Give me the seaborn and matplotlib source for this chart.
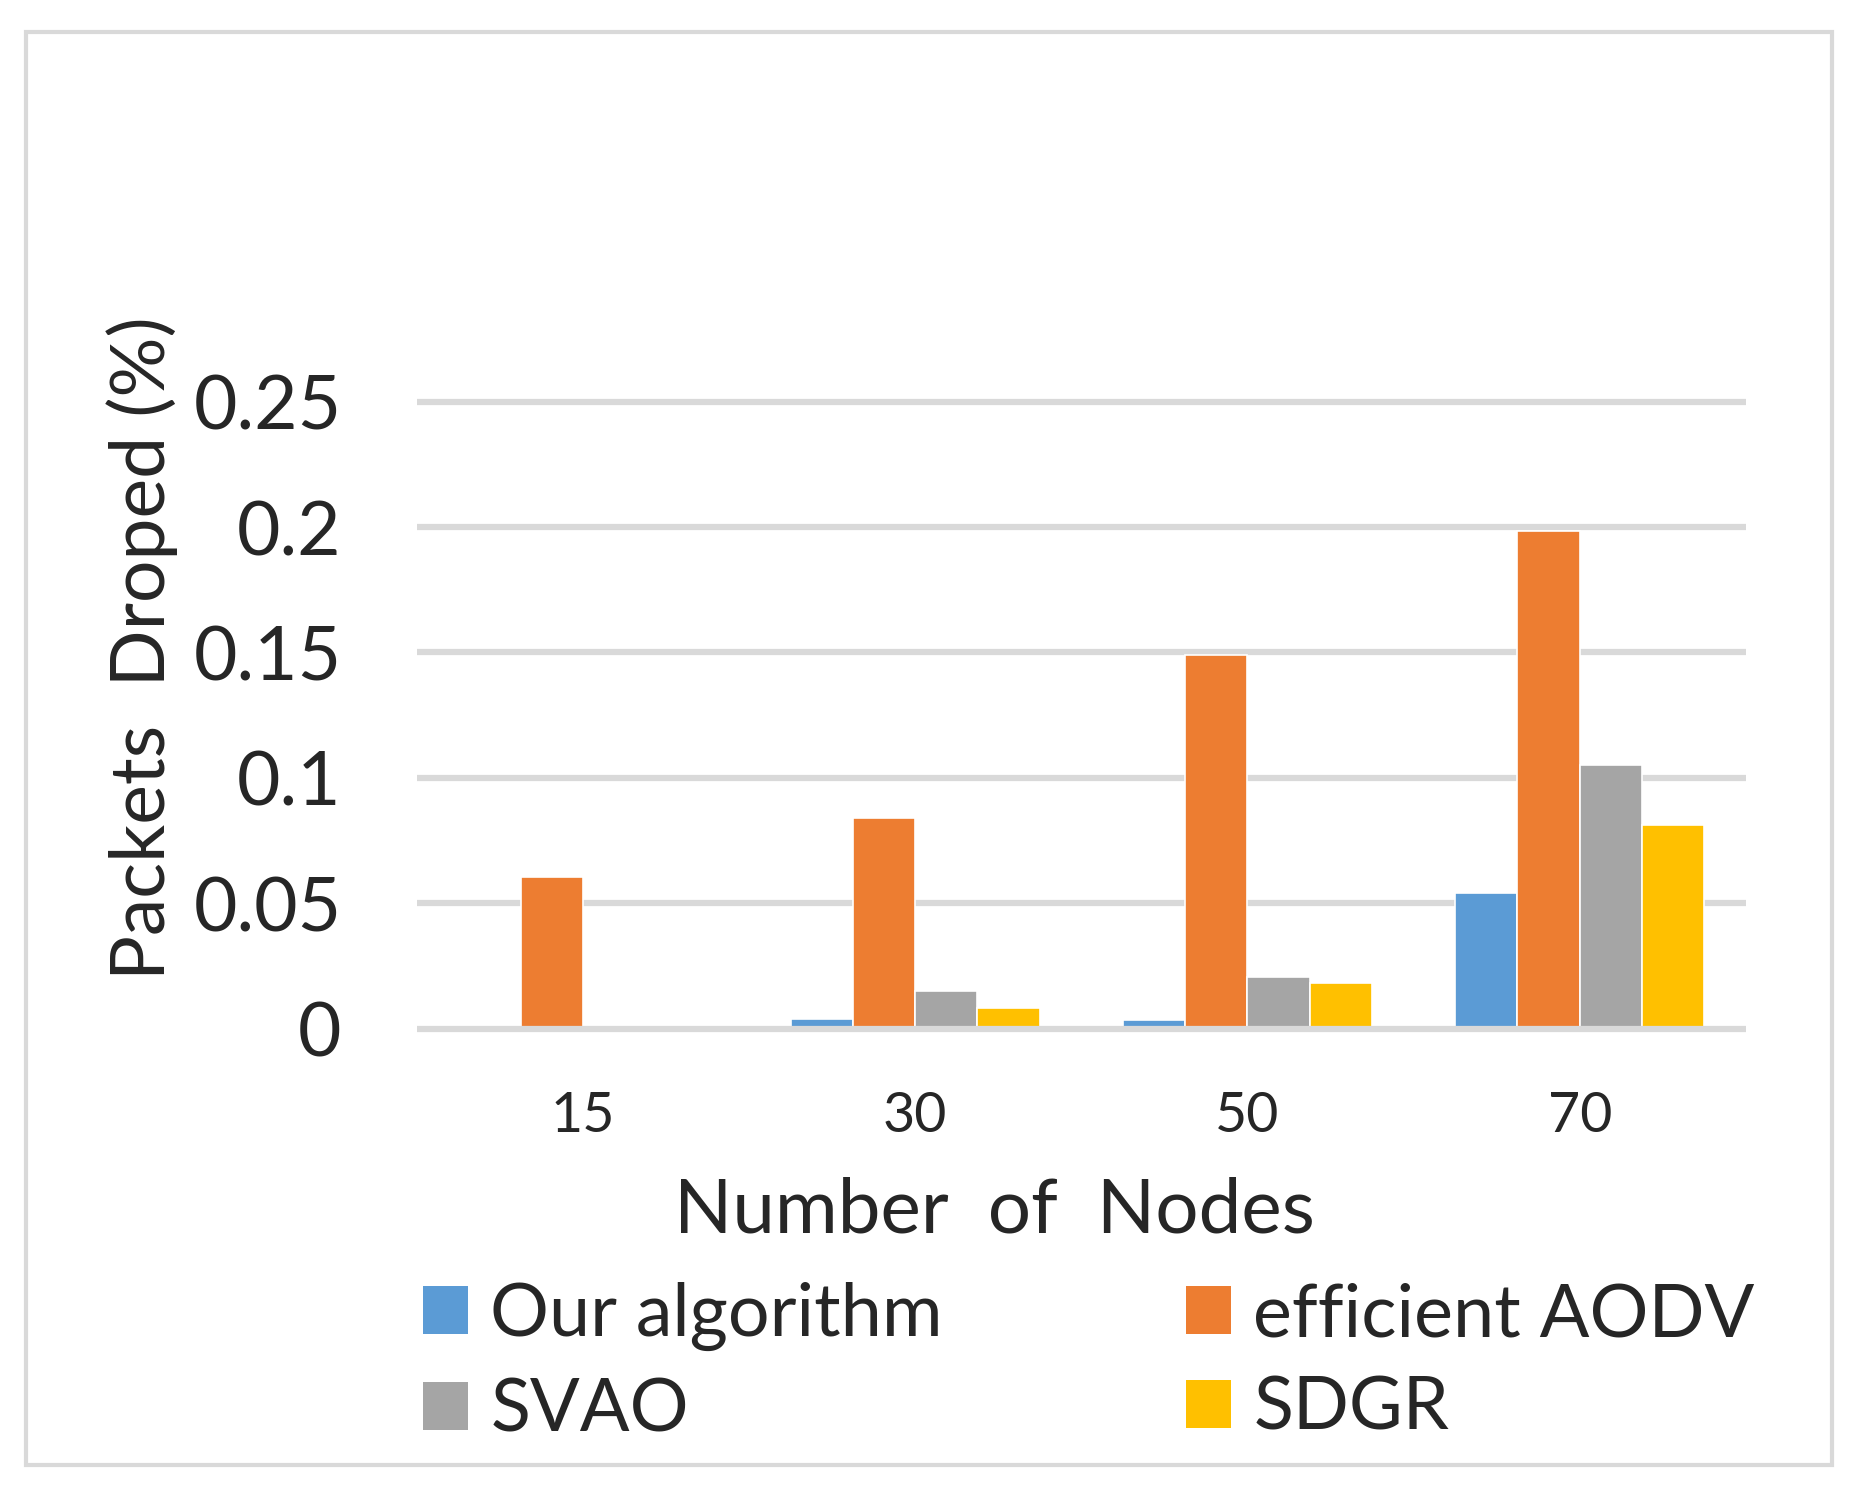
import numpy as np
import pandas as pd
import matplotlib.pyplot as plt
import seaborn as sns
from matplotlib.patches import Rectangle, Patch

# data
nodes = ['15', '30', '50', '70']
our_algorithm = [0.0, 0.0037, 0.0034, 0.054]
efficient_aodv = [0.0605, 0.0838, 0.1488, 0.1986]
svao = [0.0, 0.0150, 0.0206, 0.1053]
sdgr = [0.0, 0.0082, 0.0181, 0.0811]
series = ['Our algorithm', 'efficient AODV', 'SVAO', 'SDGR']
colors = ['#5B9BD5', '#ED7D31', '#A5A5A5', '#FFC000']

# %%
df = pd.DataFrame({
    'nodes': nodes * 4,
    'value': our_algorithm + efficient_aodv + svao + sdgr,
    'series': [s for s in series for _ in nodes],
})

sns.set_style('white')
plt.rcParams['font.family'] = ['Lato', 'DejaVu Sans']

W, H = 1568.0, 1254.0  # frame the positions were measured in
fig = plt.figure(figsize=(18.56, 14.86), dpi=100)

y0, per = 868.0, 105.8  # zero line and px per 0.05
ylo, yhi = -0.005, 0.26
bot = 1 - (y0 - ylo / 0.05 * per) / H
top = 1 - (y0 - yhi / 0.05 * per) / H
left, right = 352 / W, 1475 / W
ax = fig.add_axes([left, bot, right - left, top - bot])

sns.barplot(data=df, x='nodes', y='value', hue='series', palette=colors,
            width=0.75, gap=0, edgecolor='white', linewidth=1.2,
            saturation=1, ax=ax, legend=False, zorder=2)

ax.set_ylim(ylo, yhi)
ax.set_xlim(-0.5, 3.5)
ax.set_yticks([0, 0.05, 0.1, 0.15, 0.2, 0.25])
ax.set_yticklabels(['0', '0.05', '0.1', '0.15', '0.2', '0.25'])
for yv in [0.05, 0.1, 0.15, 0.2, 0.25]:
    ax.axhline(yv, color='#D9D9D9', lw=4.5, zorder=1)
ax.axhline(0, color='#D9D9D9', lw=4.5, zorder=3)
for s in ax.spines.values():
    s.set_visible(False)
ax.tick_params(axis='y', length=0, pad=54, labelsize=54)
ax.tick_params(axis='x', length=0, pad=36, labelsize=40)
ax.set_xlabel('')
ax.set_ylabel('')

fig.text(120 / W, 1 - 547 / H, 'Packets  Droped (%)', rotation=90,
         ha='center', va='center', fontsize=54)
fig.text(840 / W, 1 - 1022 / H, 'Number  of  Nodes', ha='center',
         va='center', fontsize=55)

# legend fills row by row in the reference
order = [0, 2, 1, 3]
handles = [Patch(facecolor=colors[i], edgecolor='none') for i in order]
labels = [series[i] for i in order]
leg = fig.legend(handles, labels, ncol=2, loc='upper left',
                 bbox_to_anchor=(357 / W, 1 - 1082 / H), frameon=False,
                 fontsize=53, handlelength=0.62, handleheight=0.62,
                 handletextpad=0.3, columnspacing=3.3, labelspacing=0.36,
                 borderpad=0, borderaxespad=0)

fig.patches.append(Rectangle((22 / W, 1 - 1236 / H), (1548 - 22) / W,
                             (1236 - 27) / H, transform=fig.transFigure,
                             fill=False, edgecolor='#D9D9D9', lw=3))

fig.savefig('out.png', dpi=100)
